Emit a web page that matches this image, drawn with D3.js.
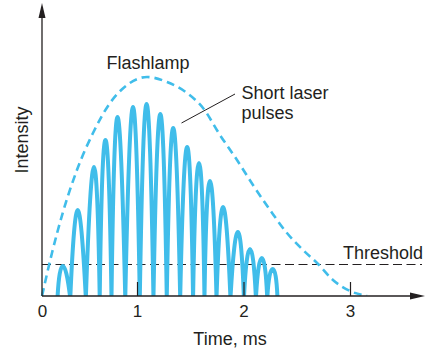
<!DOCTYPE html>
<html>
<head>
<meta charset="utf-8">
<script src="https://cdn.jsdelivr.net/npm/d3@7/dist/d3.min.js"></script>
<style>
  html, body { margin: 0; padding: 0; background: #fff; }
  svg text { font-family: "Liberation Sans", Arial, sans-serif; fill: #231f20; }
</style>
</head>
<body>
<svg id="chart" width="448" height="352"></svg>
<script>
// ---- data ----
const timeTicks = [0, 1, 2, 3];
const tickLabels = ["0", "1", "2", "3"];
// flashlamp envelope (time ms, intensity a.u.)
const lampTime = [0, 0.105, 0.221, 0.368, 0.537, 0.716, 0.895, 1.094, 1.282, 1.469, 1.620, 1.779, 1.939, 2.089, 2.249, 2.408, 2.559, 2.700, 2.840, 3.0, 3.160];
const lampValue = [0, 43, 84, 126, 163, 193, 211, 219, 214, 203, 188, 161, 136, 111, 86, 63, 46, 32, 16, 5, 0];
// short laser pulses: peak times and peak intensities
const pulseTime = [0.219, 0.376, 0.547, 0.668, 0.795, 0.958, 1.090, 1.219, 1.340, 1.471, 1.582, 1.685, 1.808, 1.947, 2.061, 2.172, 2.274];
const pulseValue = [30, 86, 129, 156, 179, 189, 192, 182, 168, 149, 133, 115, 89, 64, 47, 38, 27];
const pulseStart = 0.163, pulseEnd = 2.319;
const threshold = 32;

// ---- layout ----
const svg = d3.select("#chart");
const x = d3.scaleLinear().domain([0, 1, 2, 3]).range([42, 137, 243.5, 350]);
const y = d3.scaleLinear().domain([0, 290]).range([296, 6]);
const blue = "#40bdea", ink = "#231f20";

svg.append("defs").append("clipPath").attr("id", "plotclip")
  .append("rect").attr("x", 0).attr("y", 0).attr("width", 448).attr("height", y(0));

// threshold line
svg.append("line")
  .attr("x1", x(0)).attr("x2", 422).attr("y1", y(threshold) + 0.5).attr("y2", y(threshold) + 0.5)
  .attr("stroke", ink).attr("stroke-width", 1.1).attr("stroke-dasharray", "9,4.5");

// flashlamp dashed envelope
const lampLine = d3.line().x(d => x(d[0])).y(d => y(d[1])).curve(d3.curveMonotoneX);
svg.append("path")
  .datum(lampTime.map((t, i) => [t, lampValue[i]]))
  .attr("d", lampLine)
  .attr("fill", "none").attr("stroke", blue).attr("stroke-width", 2.6)
  .attr("stroke-dasharray", "8,5").attr("clip-path", "url(#plotclip)");

// pulses
const px = pulseTime.map(t => x(t));
const valleys = [x(pulseStart)];
for (let i = 0; i < px.length - 1; i++) valleys.push((px[i] + px[i + 1]) / 2);
valleys.push(x(pulseEnd));
const p = d3.path();
const base = y(0) + 2;
p.moveTo(valleys[0], base);
px.forEach((cx, i) => {
  const top = y(pulseValue[i]);
  const a = 3.6;
  p.quadraticCurveTo(cx - a, top, cx, top);
  p.quadraticCurveTo(cx + a, top, valleys[i + 1], base);
});
svg.append("path").attr("d", p.toString())
  .attr("fill", "none").attr("stroke", blue).attr("stroke-width", 4)
  .attr("stroke-linejoin", "round").attr("clip-path", "url(#plotclip)");

// axes
svg.append("line").attr("x1", x(0)).attr("x2", 411).attr("y1", y(0)).attr("y2", y(0))
  .attr("stroke", ink).attr("stroke-width", 1.3);
svg.append("path").attr("d", "M410,292.5L425,296L410,299.5Z").attr("fill", ink);
svg.append("line").attr("x1", x(0)).attr("x2", x(0)).attr("y1", y(0)).attr("y2", 16)
  .attr("stroke", ink).attr("stroke-width", 1.3);
svg.append("path").attr("d", "M38.5,18L42,3L45.5,18Z").attr("fill", ink);

const xAxis = d3.axisBottom(x).tickValues(timeTicks)
  .tickFormat((d, i) => tickLabels[i]).tickSizeInner(-14).tickSizeOuter(0).tickPadding(9);
const gx = svg.append("g").attr("transform", `translate(0,${y(0)})`).call(xAxis);
gx.select(".domain").remove();
gx.selectAll(".tick line").attr("stroke", ink).attr("stroke-width", 1.2)
  .filter(d => d === 0).remove();
gx.selectAll(".tick text").attr("font-size", 17).attr("fill", ink)
  .style("font-family", '"Liberation Sans", Arial, sans-serif');

// labels
svg.append("text").attr("x", 230).attr("y", 345).attr("text-anchor", "middle")
  .attr("font-size", 18).text("Time, ms");
svg.append("text").attr("transform", "translate(28,140) rotate(-90)")
  .attr("text-anchor", "middle").attr("font-size", 18).text("Intensity");
svg.append("text").attr("x", 106.5).attr("y", 69).attr("font-size", 18).text("Flashlamp");
svg.append("text").attr("x", 241.5).attr("y", 99).attr("font-size", 18).text("Short laser");
svg.append("text").attr("x", 241.5).attr("y", 119).attr("font-size", 18).text("pulses");
svg.append("text").attr("x", 343).attr("y", 259).attr("font-size", 18).text("Threshold");
svg.append("line").attr("x1", 181.5).attr("y1", 123).attr("x2", 235).attr("y2", 94)
  .attr("stroke", ink).attr("stroke-width", 1);
</script>
</body>
</html>
